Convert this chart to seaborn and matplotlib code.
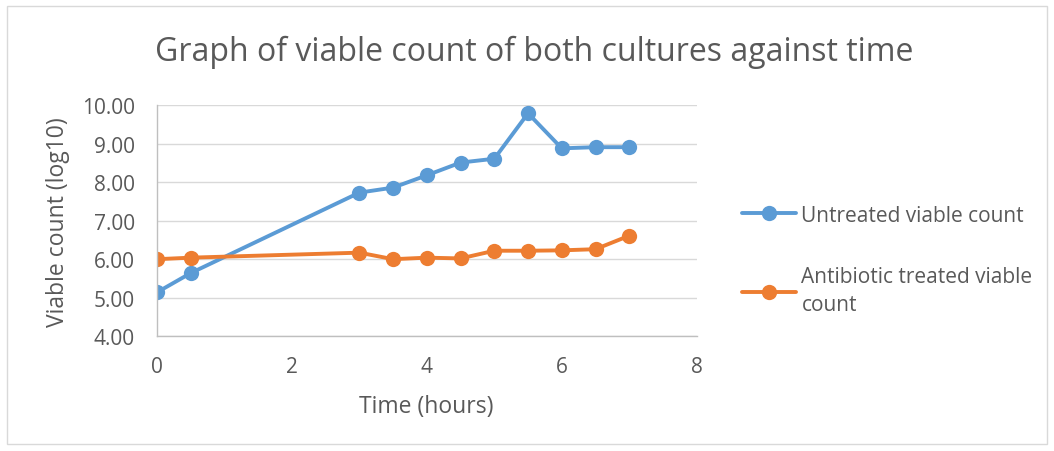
import pandas as pd
import matplotlib.pyplot as plt
import seaborn as sns
from matplotlib.patches import Rectangle
from matplotlib.ticker import FormatStrFormatter

time_hours = [0, 0.5, 3, 3.5, 4, 4.5, 5, 5.5, 6, 6.5, 7]
untreated = [5.14, 5.64, 7.73, 7.86, 8.18, 8.51, 8.61, 9.79, 8.88, 8.91, 8.91]
treated = [6.00, 6.04, 6.17, 6.00, 6.04, 6.02, 6.22, 6.22, 6.23, 6.26, 6.61]
series_names = ['Untreated viable count', 'Antibiotic treated viable\ncount']

df = pd.DataFrame({
    'time': time_hours * 2,
    'count': untreated + treated,
    'series': [series_names[0]] * len(time_hours) + [series_names[1]] * len(time_hours),
})

sns.set_style('white')
plt.rcParams['font.family'] = ['Open Sans', 'DejaVu Sans']
grey = '#595959'

fig = plt.figure(figsize=(10.54, 4.52), dpi=100)
ax = fig.add_axes([0.149, 0.254, 0.512, 0.511])

sns.lineplot(
    data=df, x='time', y='count', hue='series',
    palette=['#5b9bd5', '#ed7d31'],
    marker='o', markersize=11, markeredgewidth=0,
    linewidth=2.8, ax=ax, legend=True,
)

ax.set_xlim(0, 8)
ax.set_ylim(4, 10)
ax.set_xticks([0, 2, 4, 6, 8])
ax.set_yticks([4, 5, 6, 7, 8, 9, 10])
ax.yaxis.set_major_formatter(FormatStrFormatter('%.2f'))
ax.yaxis.grid(True, color='#d9d9d9', linewidth=1)
ax.xaxis.grid(False)
for side in ['top', 'right']:
    ax.spines[side].set_visible(False)
for side in ['left', 'bottom']:
    ax.spines[side].set_color('#bfbfbf')
    ax.spines[side].set_linewidth(1)
ax.tick_params(axis='both', length=0, labelsize=15, labelcolor=grey)
ax.tick_params(axis='y', pad=16)
ax.tick_params(axis='x', pad=14)
ax.set_xlabel('Time (hours)', fontsize=16.5, color=grey, va='center')
ax.set_ylabel('Viable count (log10)', fontsize=16.5, color=grey, va='center')
ax.xaxis.set_label_coords(0.498, -0.303)
ax.yaxis.set_label_coords(-0.183, 0.498)
fig.text(0.507, 0.885, 'Graph of viable count of both cultures against time',
         ha='center', va='center', fontsize=23, color=grey)

handles, labels = ax.get_legend_handles_labels()
ax.legend_.remove()
leg = fig.legend(handles, labels, loc='upper left', bbox_to_anchor=(0.704, 0.545),
                 frameon=False, fontsize=15, labelcolor=grey, labelspacing=1.95,
                 handlelength=2.6, handletextpad=0.25, borderaxespad=0,
                 borderpad=0)
for t in leg.get_texts():
    t.set_linespacing(1.45)

fig.patches.append(Rectangle((0.007, 0.015), 0.986, 0.97, transform=fig.transFigure,
                             fill=False, edgecolor='#d9d9d9', linewidth=1))

plt.savefig('out.png', dpi=100)
